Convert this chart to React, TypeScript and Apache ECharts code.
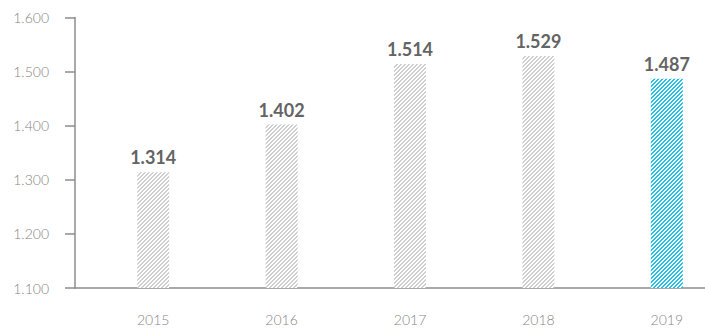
import React, { useEffect, useRef } from "react";
import * as echarts from "echarts";

const years = ["2015", "2016", "2017", "2018", "2019"];
const values = [1314, 1402, 1514, 1529, 1487];
const highlight = [false, false, false, false, true];
const yMin = 1100;
const yMax = 1600;
const yStep = 100;

function fmt(v: number): string {
  return (v / 1000).toFixed(3);
}

function makePattern(color: string): string {
  const c = document.createElement("canvas");
  c.width = 4;
  c.height = 4;
  const ctx = c.getContext("2d")!;
  ctx.fillStyle = "#ffffff";
  ctx.fillRect(0, 0, 4, 4);
  ctx.fillStyle = color;
  for (let x = 0; x < 4; x++) {
    for (let y = 0; y < 4; y++) {
      if ((x + y) % 4 < 2) ctx.fillRect(x, y, 1, 1);
    }
  }
  return c.toDataURL();
}

export default function App() {
  const ref = useRef<HTMLDivElement>(null);
  useEffect(() => {
    if (!ref.current) return;
    const chart = echarts.init(ref.current, undefined, { renderer: "svg" });
    const grayPat = makePattern("#cfcfcf");
    const bluePat = makePattern("#22c1e6");
    const axisColor = "#8c8c8c";
    const labelFont = "Lato, 'Open Sans', sans-serif";
    chart.setOption({
      animation: false,
      grid: [
        { left: 89, width: 642, top: 17.5, bottom: 40, outerBoundsMode: "none", containLabel: false },
        { left: 75, right: 0, top: 17.5, bottom: 40, outerBoundsMode: "none", containLabel: false },
      ],
      xAxis: [
        {
          type: "category",
          gridIndex: 0,
          data: years,
          axisLine: { show: false },
          axisTick: { show: false },
          axisLabel: {
            margin: 24,
            color: "#858585",
            fontSize: 14,
            fontWeight: 300,
            fontFamily: labelFont,
          },
        },
        {
          type: "value",
          gridIndex: 1,
          min: 0,
          max: 1,
          axisLine: { show: true, onZero: false, lineStyle: { color: axisColor, width: 1.5 } },
          axisTick: { show: false },
          axisLabel: { show: false },
          splitLine: { show: false },
        },
      ],
      yAxis: [
        {
          type: "value",
          gridIndex: 0,
          min: yMin,
          max: yMax,
          interval: yStep,
          show: false,
        },
        {
          type: "value",
          gridIndex: 1,
          min: yMin,
          max: yMax,
          interval: yStep,
          axisLine: { show: true, lineStyle: { color: axisColor, width: 1.5 } },
          axisTick: { show: true, length: 10, lineStyle: { color: axisColor, width: 1.5 } },
          axisLabel: {
            margin: 26,
            color: "#858585",
            fontSize: 14,
            fontWeight: 300,
            fontFamily: labelFont,
            formatter: (v: number) => fmt(v),
          },
          splitLine: { show: false },
        },
      ],
      series: [
        {
          type: "bar",
          xAxisIndex: 0,
          yAxisIndex: 0,
          barWidth: 32,
          data: values.map((v, i) => ({
            value: v,
            itemStyle: {
              color: { image: highlight[i] ? bluePat : grayPat, repeat: "repeat" },
            },
          })),
          label: {
            show: true,
            position: "top",
            distance: 6,
            color: "#646464",
            fontSize: 18,
            fontWeight: "bold",
            fontFamily: labelFont,
            formatter: (p: any) => fmt(p.value),
          },
        },
      ],
    });
    return () => chart.dispose();
  }, []);
  return <div ref={ref} style={{ width: 705, height: 328, position: "absolute", left: 0, top: 0 }} />;
}
